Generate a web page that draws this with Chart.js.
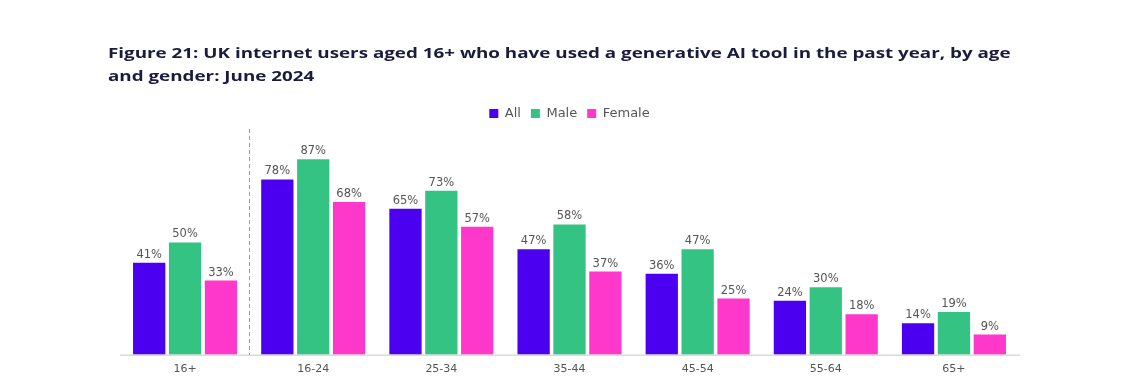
<!DOCTYPE html>
<html lang="en">
<head>
  <meta charset="UTF-8" />
  <title>Figure 21: Generative AI use by age and gender</title>
  <script src="https://cdn.jsdelivr.net/npm/chart.js"></script>
  <style>
    body {
      margin: 0;
      background: #fff;
      font-family: 'Open Sans', sans-serif;
    }
    .wrap {
      position: relative;
      width: 1131px;
      height: 384px;
    }
    .title {
      position: absolute;
      left: 108px;
      top: 41px;
      font-weight: bold;
      font-size: 14px;
      line-height: 23px;
      color: #1b1b3d;
      white-space: nowrap;
      transform: scaleX(1.343);
      transform-origin: left top;
    }
    canvas { position: absolute; left: 0; top: 0; }
  </style>
</head>
<body>
<div class="wrap">
  <canvas id="chart" width="1131" height="384"></canvas>
  <div class="title">Figure 21: UK internet users aged 16+ who have used a generative AI tool in the past year, by age<br>and gender: June 2024</div>
</div>
<script>
const ageGroups = ['16+', '16-24', '25-34', '35-44', '45-54', '55-64', '65+'];
const allUsers = [41, 78, 65, 47, 36, 24, 14];
const maleUsers = [50, 87, 73, 58, 47, 30, 19];
const femaleUsers = [33, 68, 57, 37, 25, 18, 9];

const textFont = '"DejaVu Sans", sans-serif';

// value labels, baseline and the dashed split after "16+"
const extras = {
  id: 'extras',
  afterDatasetsDraw(chart) {
    const ctx = chart.ctx, area = chart.chartArea, xs = chart.scales.x;
    ctx.save();
    ctx.strokeStyle = '#d9d9d9';
    ctx.lineWidth = 1.5;
    ctx.beginPath();
    ctx.moveTo(area.left - 1, area.bottom + 0.5);
    ctx.lineTo(area.right + 2, area.bottom + 0.5);
    ctx.stroke();

    const splitX = (xs.getPixelForValue(0) + xs.getPixelForValue(1)) / 2;
    ctx.strokeStyle = '#9a9a9a';
    ctx.lineWidth = 1;
    ctx.setLineDash([4, 3]);
    ctx.beginPath();
    ctx.moveTo(Math.round(splitX) + 0.5, area.top - 1);
    ctx.lineTo(Math.round(splitX) + 0.5, area.bottom);
    ctx.stroke();
    ctx.setLineDash([]);

    ctx.fillStyle = '#555';
    ctx.font = '11.5px ' + textFont;
    ctx.textAlign = 'center';
    ctx.textBaseline = 'alphabetic';
    chart.data.datasets.forEach((ds, i) => {
      chart.getDatasetMeta(i).data.forEach((bar, j) => {
        ctx.fillText(ds.data[j] + '%', bar.x, bar.y - 5);
      });
    });
    ctx.restore();
  }
};

new Chart(document.getElementById('chart'), {
  type: 'bar',
  data: {
    labels: ageGroups,
    datasets: [
      { label: 'All', data: allUsers, backgroundColor: '#4b00f0' },
      { label: 'Male', data: maleUsers, backgroundColor: '#35c384' },
      { label: 'Female', data: femaleUsers, backgroundColor: '#ff38cc' }
    ]
  },
  options: {
    responsive: false,
    animation: false,
    categoryPercentage: 0.84,
    barPercentage: 0.9,
    layout: { padding: { left: 121, right: 113, top: 97, bottom: 0 } },
    plugins: {
      legend: {
        labels: {
          boxWidth: 9,
          boxHeight: 9,
          padding: 10,
          color: '#555',
          font: { size: 13, family: textFont }
        }
      },
      tooltip: { enabled: false }
    },
    scales: {
      x: {
        grid: { display: false, drawTicks: false },
        border: { display: false },
        ticks: { color: '#555', padding: 8, font: { size: 11, family: textFont } }
      },
      y: {
        display: false,
        min: 0,
        max: 100
      }
    }
  },
  plugins: [extras]
});
</script>
</body>
</html>
